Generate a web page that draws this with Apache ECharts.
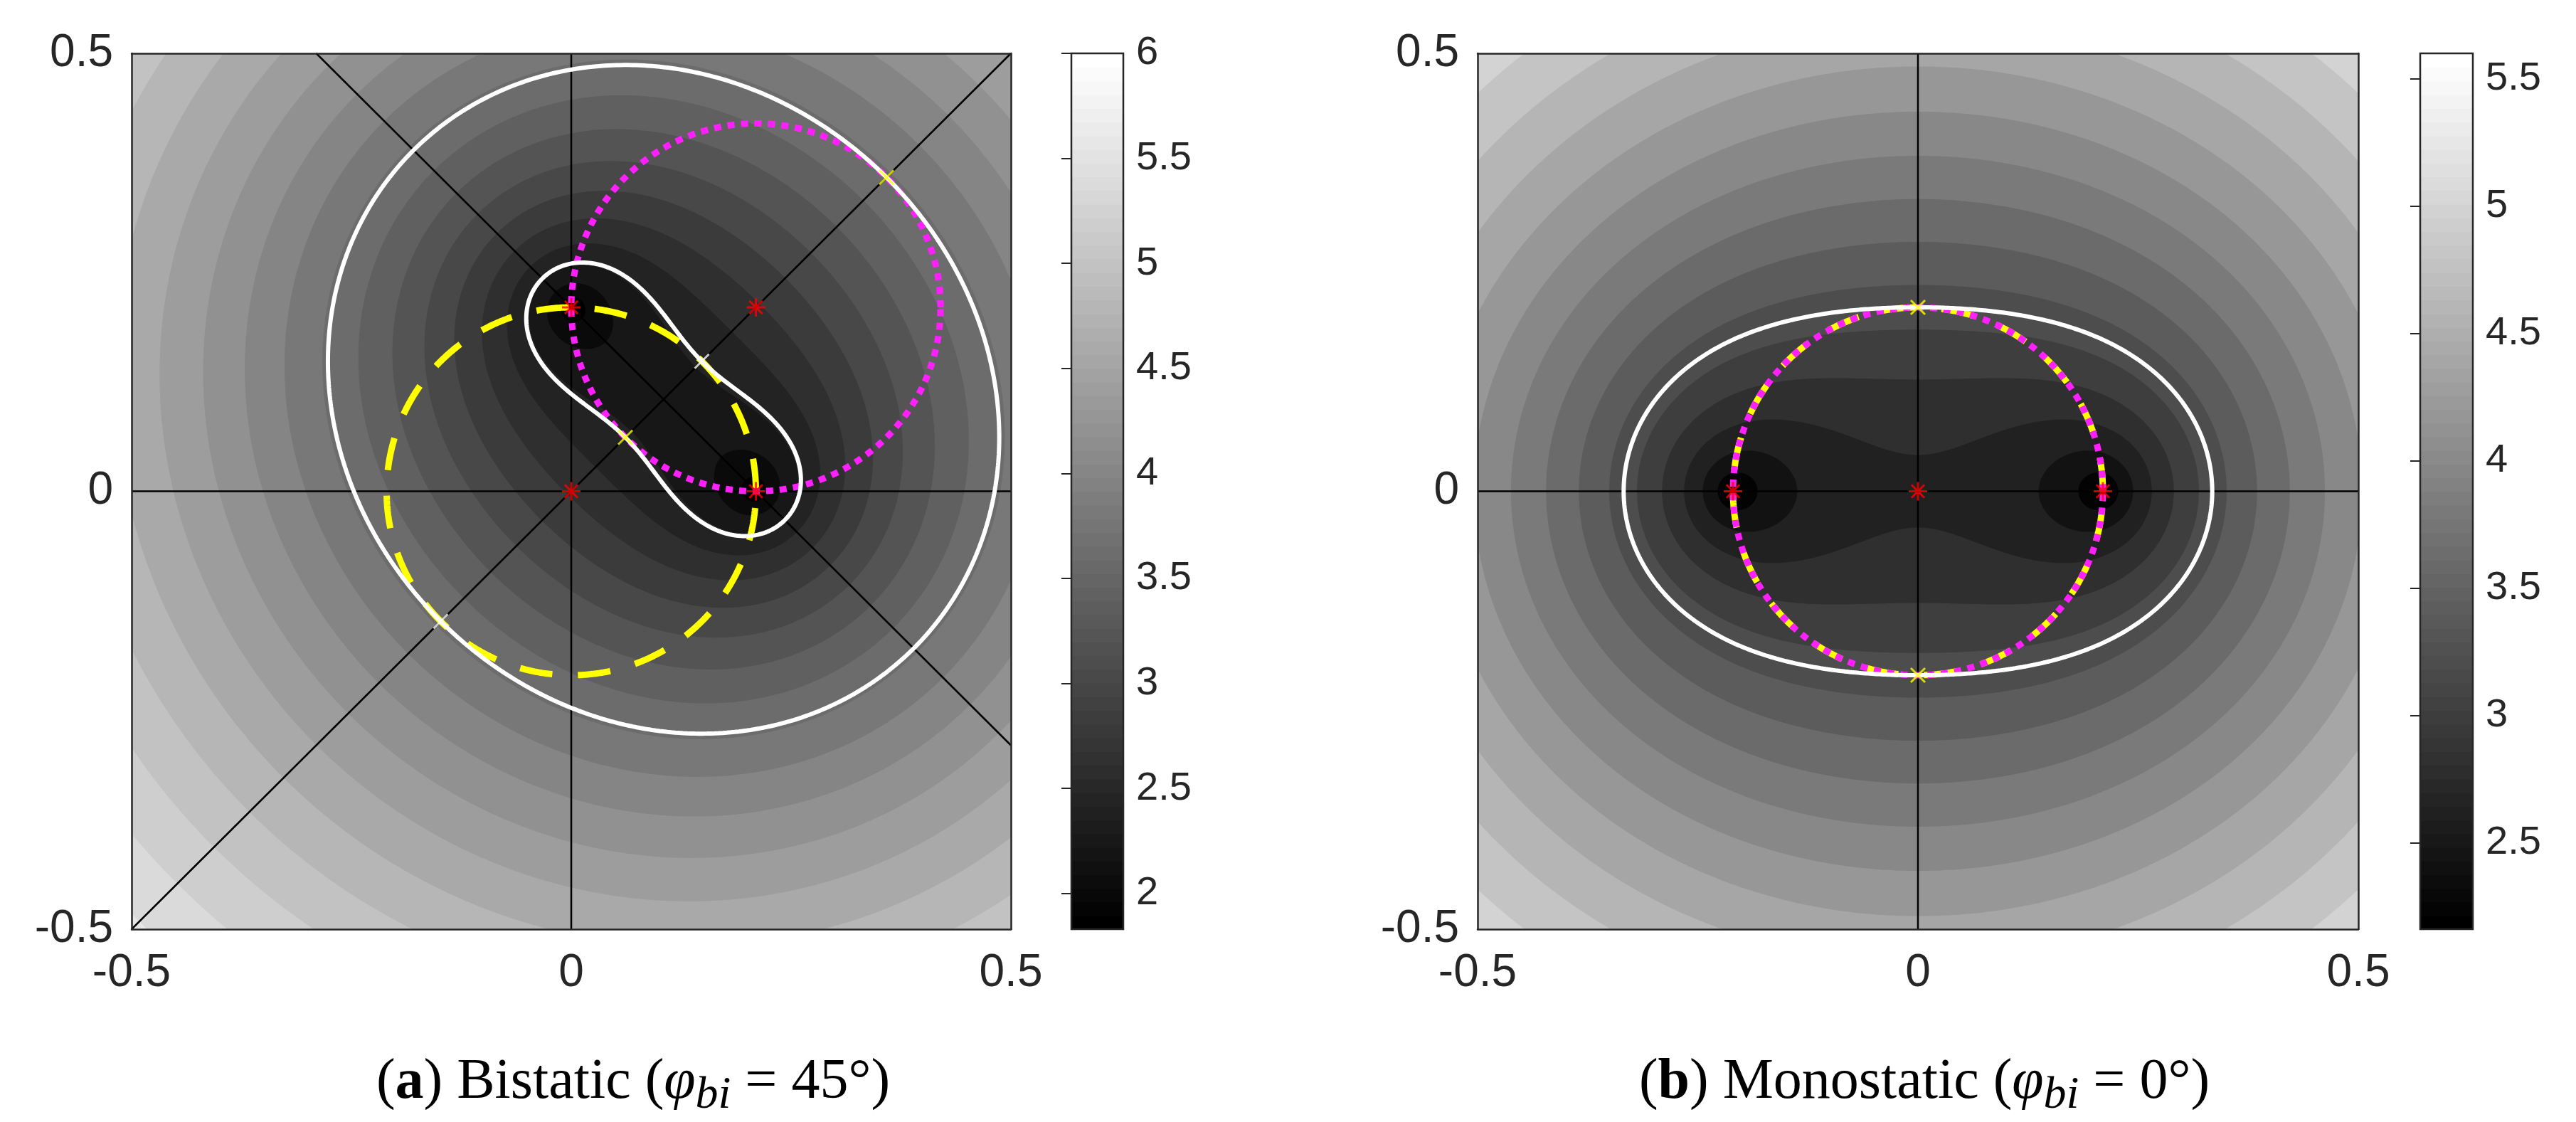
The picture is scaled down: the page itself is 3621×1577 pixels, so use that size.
<!DOCTYPE html>
<html>
<head>
<meta charset="utf-8">
<title>Bistatic / monostatic coverage</title>
<script src="https://cdn.jsdelivr.net/npm/echarts@6/dist/echarts.min.js"></script>
<style>
html, body { margin: 0; padding: 0; background: #fff; }
#chart { width: 3621px; height: 1577px; }
</style>
</head>
<body>
<div id="chart"></div>
<script>
// tick labels of both plots
var axisTicks = [-0.5, 0, 0.5];

// transmitter / receiver positions
var fociA = [[0, 0.21], [0.21, 0]];
var fociB = [[-0.21, 0], [0.21, 0]];

// field = gain * (sqrt(r1) + sqrt(r2)), filled contours every levelStep
var fieldGain = 3.026;
var levelStep = 0.2;
var levelRange = [1.6, 6.4];

// colour limits and colorbar ticks
var climA = [1.83, 6.0];
var climB = [2.16, 5.6];
var cbarTicksA = [2, 2.5, 3, 3.5, 4, 4.5, 5, 5.5, 6];
var cbarTicksB = [2.5, 3, 3.5, 4, 4.5, 5, 5.5];

// white iso-curves, value of sqrt(r1) + sqrt(r2)
var whiteCurvesA = [0.8018, 1.2458];
var whiteCurvesB = [1.090];

// circles [cx, cy, r]
var magentaCircleA = [0.21, 0.21, 0.21];
var yellowCircleA = [0, 0, 0.21];
var magentaCircleB = [0, 0, 0.21];
var yellowCircleB = [0, 0, 0.21];

// thin black reference lines
var refLinesA = [
  [[0, -0.5], [0, 0.5]],
  [[-0.5, 0], [0.5, 0]],
  [[-0.5, -0.5], [0.5, 0.5]],
  [[-0.29, 0.5], [0.5, -0.29]]
];
var refLinesB = [
  [[0, -0.5], [0, 0.5]],
  [[-0.5, 0], [0.5, 0]]
];

// markers
var redStarsA = [[0, 0], [0, 0.21], [0.21, 0.21], [0.21, 0]];
var yellowMarksA = [[0.0615, 0.0615], [0.3585, 0.3585]];
var whiteMarksA = [[0.1485, 0.1485], [-0.1485, -0.1485]];
var redStarsB = [[0, 0], [-0.21, 0], [0.21, 0]];
var yellowMarksB = [[0, 0.21], [0, -0.21]];

function sumRoot(x, y, foci) {
  var a = Math.hypot(x - foci[0][0], y - foci[0][1]);
  var b = Math.hypot(x - foci[1][0], y - foci[1][1]);
  return Math.sqrt(a) + Math.sqrt(b);
}

// closed curve sqrt(r1)+sqrt(r2) = level, first crossing along rays from a centre
function loopAround(cx, cy, foci, level) {
  var pts = [], n = 540, step = 0.003;
  for (var k = 0; k <= n; k++) {
    var t = k / n * 2 * Math.PI, ux = Math.cos(t), uy = Math.sin(t);
    var r = 0;
    while (r < 3 && sumRoot(cx + r * ux, cy + r * uy, foci) < level) r += step;
    var lo = Math.max(0, r - step), hi = r;
    for (var it = 0; it < 24; it++) {
      var mid = (lo + hi) / 2;
      if (sumRoot(cx + mid * ux, cy + mid * uy, foci) >= level) hi = mid; else lo = mid;
    }
    pts.push([cx + hi * ux, cy + hi * uy]);
  }
  return pts;
}

// one loop round both foci, or one round each when the level is below the saddle
function isoLoops(foci, level) {
  var mx = (foci[0][0] + foci[1][0]) / 2, my = (foci[0][1] + foci[1][1]) / 2;
  if (sumRoot(mx, my, foci) < level) return [loopAround(mx, my, foci, level)];
  return foci.map(function (p) { return loopAround(p[0], p[1], foci, level); });
}

function contourBands(foci) {
  var d = Math.hypot(foci[0][0] - foci[1][0], foci[0][1] - foci[1][1]);
  var bands = [];
  var k0 = Math.round(levelRange[0] / levelStep), k1 = Math.round(levelRange[1] / levelStep);
  for (var k = k1; k >= k0; k--) {
    var lv = k * levelStep;
    if (lv / fieldGain <= Math.sqrt(d)) continue;
    bands.push({ level: lv, loops: isoLoops(foci, lv / fieldGain) });
  }
  return bands;
}

function circlePts(circ) {
  var pts = [];
  for (var k = 0; k <= 720; k++) {
    var t = k / 720 * 2 * Math.PI;
    pts.push([circ[0] + circ[2] * Math.cos(t), circ[1] + circ[2] * Math.sin(t)]);
  }
  return pts;
}

function colorbarSteps(clim) {
  var steps = [], n = 64;
  for (var i = 0; i < n; i++) {
    steps.push([clim[0] + (clim[1] - clim[0]) * i / n, clim[0] + (clim[1] - clim[0]) * (i + 1) / n, i / (n - 1)]);
  }
  return steps;
}

function gray(v) { return 'rgb(' + v + ',' + v + ',' + v + ')'; }
function levelGray(v, clim) {
  var t = (v - clim[0]) / (clim[1] - clim[0]);
  return gray(Math.round(Math.min(1, Math.max(0, t)) * 255));
}

var sansFont = 'Liberation Sans, Arial, Helvetica, sans-serif';
var serifFont = 'Liberation Serif, Times New Roman, serif';
var starPath = 'path://M0,-10L0,10M-10,0L10,0M-7.07,-7.07L7.07,7.07M-7.07,7.07L7.07,-7.07';
var crossPath = 'path://M-10,-10L10,10M-10,10L10,-10';

var grids = [
  { left: 185, top: 75, width: 1236, height: 1231 },   // 0 plot a
  { left: 1506, top: 75, width: 73, height: 1231 },    // 1 colorbar a
  { left: 2077, top: 75, width: 1238, height: 1231 },  // 2 plot b
  { left: 3402, top: 75, width: 74, height: 1231 }     // 3 colorbar b
];

function plotAxisX(g) {
  return [
    { gridIndex: g, type: 'value', min: -0.5, max: 0.5, position: 'bottom', z: 10,
      axisLine: { show: true, onZero: false, lineStyle: { color: '#262626', width: 2.5 } },
      axisTick: { show: false }, splitLine: { show: false },
      axisLabel: { fontSize: 64, color: '#262626', fontFamily: sansFont, margin: 30, customValues: axisTicks } },
    { gridIndex: g, type: 'value', min: -0.5, max: 0.5, position: 'top', z: 10,
      axisLine: { show: true, onZero: false, lineStyle: { color: '#262626', width: 2.5 } },
      axisTick: { show: false }, splitLine: { show: false }, axisLabel: { show: false } }
  ];
}
function plotAxisY(g) {
  return [
    { gridIndex: g, type: 'value', min: -0.5, max: 0.5, position: 'left', z: 10,
      axisLine: { show: true, onZero: false, lineStyle: { color: '#262626', width: 2.5 } },
      axisTick: { show: false }, splitLine: { show: false },
      axisLabel: { fontSize: 64, color: '#262626', fontFamily: sansFont, margin: 26, customValues: axisTicks } },
    { gridIndex: g, type: 'value', min: -0.5, max: 0.5, position: 'right', z: 10,
      axisLine: { show: true, onZero: false, lineStyle: { color: '#262626', width: 2.5 } },
      axisTick: { show: false }, splitLine: { show: false }, axisLabel: { show: false } }
  ];
}
function cbarAxisX(g) {
  return { gridIndex: g, type: 'value', min: 0, max: 1, show: false };
}
function cbarAxisY(g, clim, ticks) {
  return { gridIndex: g, type: 'value', position: 'right', min: clim[0], max: clim[1], z: 10,
    axisLine: { show: false }, splitLine: { show: false },
    axisTick: { show: true, inside: true, length: 14, lineStyle: { color: '#262626', width: 2 }, customValues: ticks },
    axisLabel: { show: true, fontSize: 56, color: '#262626', fontFamily: sansFont, margin: 18, customValues: ticks } };
}

// axis index layout: 0 plot a, 1 (top/right) a, 2 cbar a, 3 plot b, 4 (top/right) b, 5 cbar b
var xAxes = plotAxisX(0).concat([cbarAxisX(1)], plotAxisX(2), [cbarAxisX(3)]);
var yAxes = plotAxisY(0).concat([cbarAxisY(1, climA, cbarTicksA)], plotAxisY(2), [cbarAxisY(3, climB, cbarTicksB)]);

function contourSeries(ax, foci, clim) {
  var bands = contourBands(foci);
  return { type: 'custom', xAxisIndex: ax, yAxisIndex: ax, clip: true, silent: true, z: 1,
    data: bands.map(function (b, i) { return [b.level, i]; }),
    renderItem: function (params, api) {
      var b = bands[params.dataIndex];
      var fill = levelGray(b.level - levelStep, clim);
      return { type: 'group', children: b.loops.map(function (loop) {
        return { type: 'polygon', shape: { points: loop.map(function (p) { return api.coord(p); }) },
          style: { fill: fill } };
      }) };
    } };
}
function lineSeries(ax, data, style, z) {
  return { type: 'line', xAxisIndex: ax, yAxisIndex: ax, data: data, symbol: 'none', showSymbol: false,
    silent: true, z: z, clip: true, lineStyle: style };
}
function markSeries(ax, data, symbol, size, color, width) {
  return { type: 'scatter', xAxisIndex: ax, yAxisIndex: ax, data: data, symbol: symbol, symbolSize: size,
    silent: true, z: 9, clip: true,
    itemStyle: { color: 'rgba(0,0,0,0)', borderColor: color, borderWidth: width } };
}
function colorbarSeries(ax, clim) {
  return [
    { type: 'custom', xAxisIndex: ax, yAxisIndex: ax, data: colorbarSteps(clim), silent: true, z: 2, clip: false,
      renderItem: function (params, api) {
        var p0 = api.coord([0, api.value(1)]), p1 = api.coord([1, api.value(0)]);
        return { type: 'rect', shape: { x: p0[0], y: p0[1], width: p1[0] - p0[0], height: p1[1] - p0[1] + 1 },
          style: { fill: gray(Math.round(api.value(2) * 255)) } };
      } },
    { type: 'custom', xAxisIndex: ax, yAxisIndex: ax, data: [[clim[0], clim[1]]], silent: true, z: 5, clip: false,
      renderItem: function (params, api) {
        var p0 = api.coord([0, api.value(1)]), p1 = api.coord([1, api.value(0)]);
        return { type: 'rect', shape: { x: p0[0], y: p0[1], width: p1[0] - p0[0], height: p1[1] - p0[1] },
          style: { fill: 'none', stroke: '#262626', lineWidth: 2.5 } };
      } }
  ];
}

var blackStyle = { color: '#000000', width: 2.5 };
var yellowStyle = { color: '#ffff00', width: 9, type: [46, 36] };
var magentaStyle = { color: '#ff1fff', width: 9, type: [10, 9] };
var whiteStyle = { color: '#ffffff', width: 6 };

var series = [contourSeries(0, fociA, climA), contourSeries(3, fociB, climB)];

refLinesA.forEach(function (seg) { series.push(lineSeries(0, seg, blackStyle, 3)); });
series.push(lineSeries(0, circlePts(yellowCircleA), yellowStyle, 4));
series.push(lineSeries(0, circlePts(magentaCircleA), magentaStyle, 5));
whiteCurvesA.forEach(function (lv) { series.push(lineSeries(0, isoLoops(fociA, lv)[0], whiteStyle, 6)); });
series.push(markSeries(0, redStarsA, starPath, 26, '#ff0000', 3));
series.push(markSeries(0, yellowMarksA, crossPath, 20, '#ffff00', 3));
series.push(markSeries(0, whiteMarksA, crossPath, 20, '#ffffff', 3));

refLinesB.forEach(function (seg) { series.push(lineSeries(3, seg, blackStyle, 3)); });
series.push(lineSeries(3, circlePts(yellowCircleB), yellowStyle, 4));
series.push(lineSeries(3, circlePts(magentaCircleB), magentaStyle, 5));
whiteCurvesB.forEach(function (lv) { series.push(lineSeries(3, isoLoops(fociB, lv)[0], whiteStyle, 6)); });
series.push(markSeries(3, redStarsB, starPath, 26, '#ff0000', 3));
series.push(markSeries(3, yellowMarksB, crossPath, 20, '#ffff00', 3));

series = series.concat(colorbarSeries(2, climA), colorbarSeries(5, climB));

var captionRich = {
  n: { fontFamily: serifFont, fontSize: 80, lineHeight: 100, color: '#000' },
  b: { fontFamily: serifFont, fontSize: 80, lineHeight: 100, fontWeight: 'bold', color: '#000' },
  i: { fontFamily: serifFont, fontSize: 80, lineHeight: 100, fontStyle: 'italic', color: '#000' },
  s: { fontFamily: serifFont, fontSize: 64, lineHeight: 55, fontStyle: 'italic', verticalAlign: 'bottom', color: '#000' }
};

var option = {
  animation: false,
  backgroundColor: '#ffffff',
  grid: grids,
  xAxis: xAxes,
  yAxis: yAxes,
  graphic: [
    { type: 'text', x: 890, y: 1472, z: 10, silent: true,
      style: { text: '{n|(}{b|a}{n|) Bistatic (}{i|φ}{s|bi}{n| = 45°)}', rich: captionRich, align: 'center', verticalAlign: 'top' } },
    { type: 'text', x: 2705, y: 1472, z: 10, silent: true,
      style: { text: '{n|(}{b|b}{n|) Monostatic (}{i|φ}{s|bi}{n| = 0°)}', rich: captionRich, align: 'center', verticalAlign: 'top' } }
  ],
  series: series
};

var chart = echarts.init(document.getElementById('chart'));
chart.setOption(option);
</script>
</body>
</html>
